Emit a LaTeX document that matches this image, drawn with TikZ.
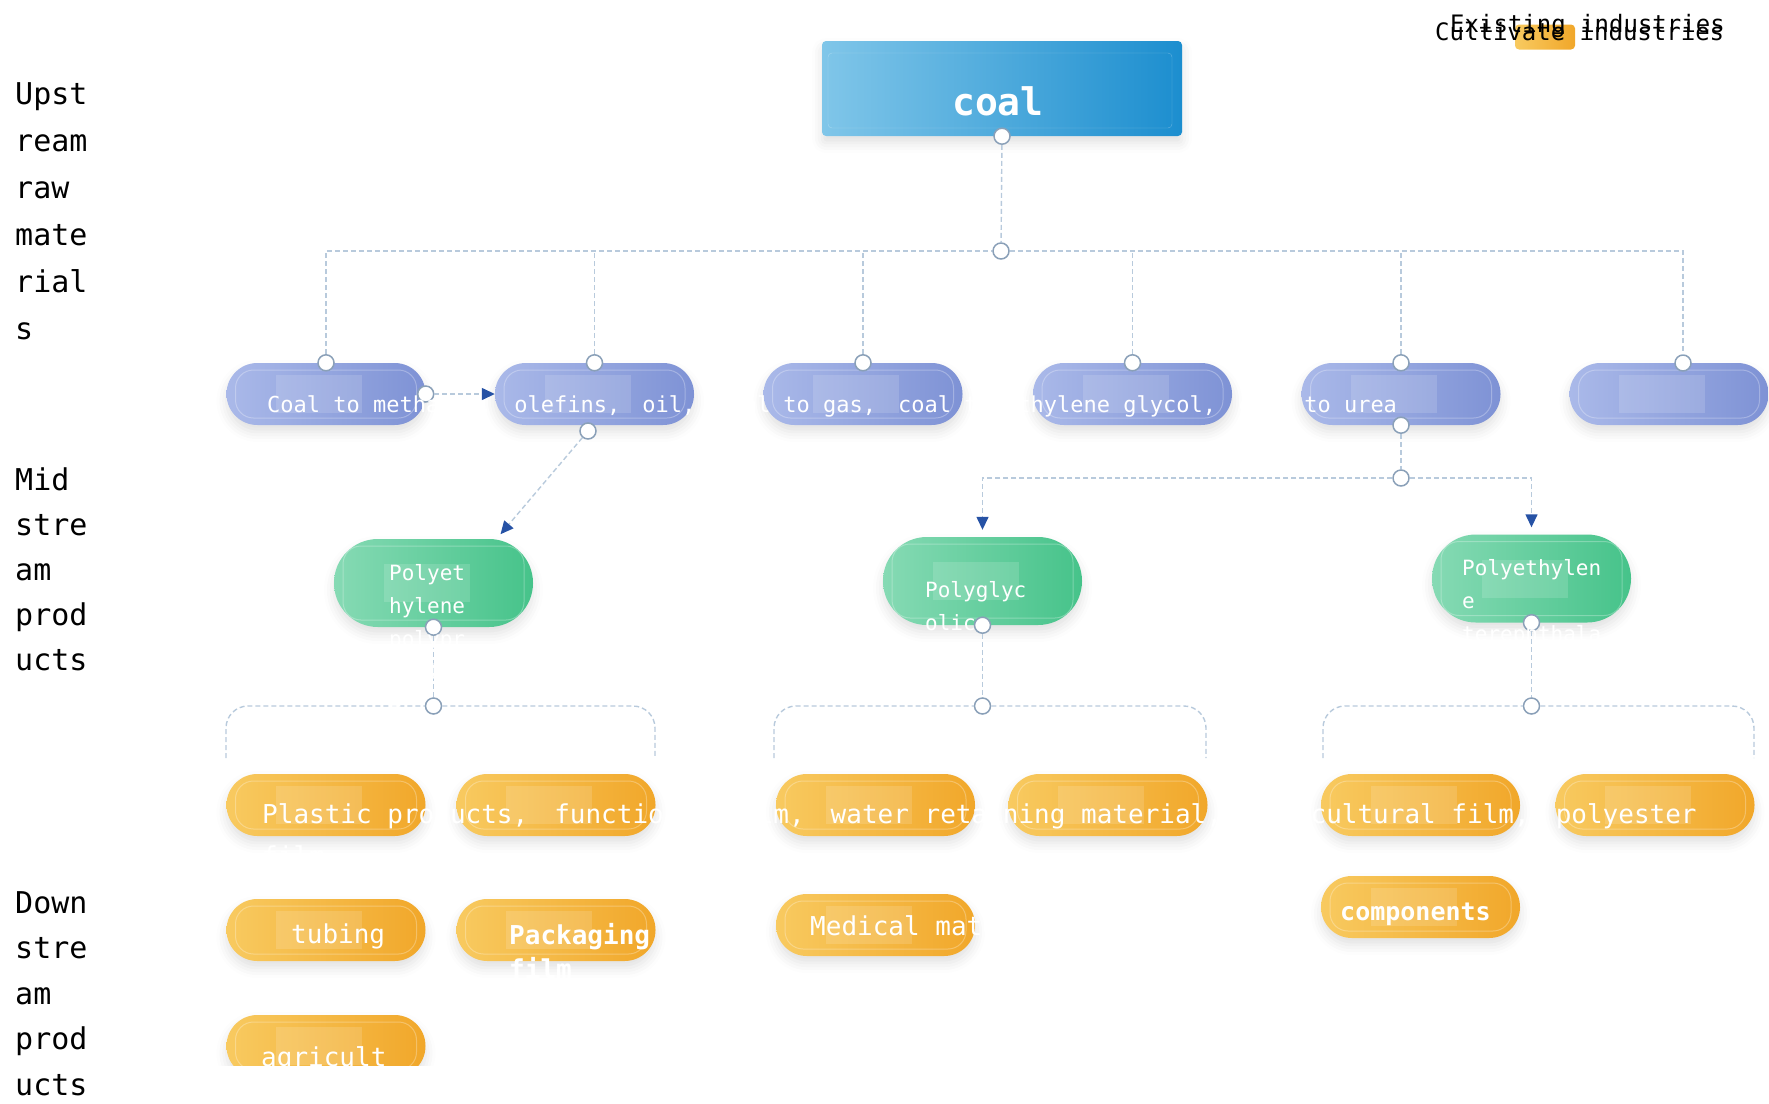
\documentclass[tikz,border=0pt]{standalone}
\usepackage{fontspec}
\setmonofont{DejaVu Sans Mono}
\usepackage{xcolor}
\usepackage{tikz}
\usetikzlibrary{arrows.meta, shadows.blur}

\definecolor{upL}{RGB}{170,185,233}
\definecolor{upR}{RGB}{126,146,213}
\definecolor{midL}{RGB}{134,218,180}
\definecolor{midR}{RGB}{70,195,138}
\definecolor{dnL}{RGB}{248,202,96}
\definecolor{dnR}{RGB}{241,167,42}
\definecolor{coalL}{RGB}{128,198,233}
\definecolor{coalR}{RGB}{28,142,207}
\definecolor{linkc}{RGB}{184,202,220}
\definecolor{dotc}{RGB}{138,160,184}
\definecolor{arrc}{RGB}{38,82,165}

\tikzset{
  deco/.style={path picture={
    \fill[white, opacity=.14, sharp corners] ([shift={(-50pt,-19pt)}]path picture bounding box.center)
      rectangle ([shift={(36pt,19pt)}]path picture bounding box.center);
    \draw[white, opacity=.28, line width=1pt, rounded corners=18pt]
      ([shift={(9pt,7pt)}]path picture bounding box.south west)
      rectangle ([shift={(-9pt,-7pt)}]path picture bounding box.north east);
  }},
  softshadow/.style={blur shadow={shadow xshift=0pt, shadow yshift=-7pt,
    shadow blur radius=10pt, shadow opacity=12}},
  uppill/.style={rectangle, rounded corners=30.9pt, minimum width=199pt,
    minimum height=62pt, inner sep=0pt, left color=upL, right color=upR,
    softshadow, deco},
  midpill/.style={rectangle, rounded corners=43.9pt, minimum width=199pt,
    minimum height=88pt, inner sep=0pt, left color=midL, right color=midR,
    softshadow, deco},
  dnpill/.style={rectangle, rounded corners=30.9pt, minimum width=199pt,
    minimum height=62pt, inner sep=0pt, left color=dnL, right color=dnR,
    softshadow, deco},
  coalbox/.style={rectangle, rounded corners=4pt, minimum width=360pt,
    minimum height=95pt, inner sep=0pt, left color=coalL, right color=coalR,
    softshadow, path picture={
      \draw[white, opacity=.3, rounded corners=4pt]
        ([shift={(6pt,8pt)}]path picture bounding box.south west)
        rectangle ([shift={(-10pt,-12pt)}]path picture bounding box.north east);
    }},
  legbox/.style={rectangle, rounded corners=4pt, minimum width=60pt,
    minimum height=25pt, left color=dnL, right color=dnR},
  dot/.style={circle, draw=dotc, fill=white, line width=1.5pt,
    minimum size=16pt, inner sep=0pt},
  conn/.style={draw=linkc, line width=1.4pt, dash pattern=on 5pt off 3pt},
  arr/.style={conn, -{Triangle[length=13pt, width=12pt, color=arrc]}},
  uptxt/.style={text=white, font=\ttfamily\fontsize{22}{30}\selectfont,
    inner sep=0pt, anchor=base west},
  midtxt/.style={text=white, font=\ttfamily\fontsize{21}{33}\selectfont,
    inner sep=0pt, anchor=north west, align=left},
  dntxt/.style={text=white, font=\ttfamily\fontsize{26}{42}\selectfont,
    inner sep=0pt, anchor=base west},
  sidetxt/.style={font=\ttfamily\fontsize{30}{47}\selectfont,
    inner sep=0pt, anchor=north west, align=left},
  legtxt/.style={font=\ttfamily\fontsize{24}{28}\selectfont,
    inner sep=0pt, anchor=base west}
}

\begin{document}
\begin{tikzpicture}[x=1pt, y=-1pt]
    \useasboundingbox (0,0) rectangle (1769,1103);

    \node[sidetxt] (side1) at (15,82) {Upst\\ream\\raw\\mate\\rial\\s};
    \node[sidetxt, font=\ttfamily\fontsize{30}{45}\selectfont] (side2) at (15,467) {Mid\\stre\\am\\prod\\ucts};
    \node[sidetxt, font=\ttfamily\fontsize{30}{45.5}\selectfont] (side3) at (15,891) {Down\\stre\\am\\prod\\ucts};

    \node[legbox] (leg) at (1545,37) {};
    \node[legtxt] (exist) at (1450,32) {Existing industries};
    \node[legtxt] (cult) at (1435,40) {Cultivate industries};

    \node[coalbox] (coal) at (1002,88.5) {};
    \node[text=white, font=\ttfamily\bfseries\fontsize{38}{40}\selectfont,
      inner sep=0pt, anchor=base west] (coallbl) at (952,115) {coal};

    \node[uppill] (u1) at (326,394) {};
    \node[uppill] (u2) at (594.5,394) {};
    \node[uppill] (u3) at (863,394) {};
    \node[uppill] (u4) at (1132.5,394) {};
    \node[uppill] (u5) at (1401,394) {};
    \node[uppill] (u6) at (1669,394) {};

    \node[midpill] (m1) at (433.5,583) {};
    \node[midpill] (m2) at (982.5,581) {};
    \node[midpill] (m3) at (1531.5,578.5) {};

    \node[dnpill] (d1) at (326,805) {};
    \node[dnpill] (d2) at (556,805) {};
    \node[dnpill] (d3) at (875.5,805) {};
    \node[dnpill] (d4) at (1108,805) {};
    \node[dnpill] (d5) at (1420.5,805) {};
    \node[dnpill] (d6) at (1655,805) {};
    \node[dnpill] (d7) at (326,930) {};
    \node[dnpill] (d8) at (556,930) {};
    \node[dnpill] (d9) at (875.5,925) {};
    \node[dnpill] (d10) at (1420.5,907) {};
    \node[dnpill] (d11) at (326,1046) {};

    \node[dot] (coalb) at (coal.south) {};
    \node[dot] (hub) at (1001,251) {};
    \foreach \n in {1,...,5}
        \node[dot] (u\n t) at (u\n.north) {};
    \node[dot] (u6t) at (1683,363) {};
    \node[dot] (u1e) at (u1.east) {};
    \node[dot] (u2b) at (588,431) {};
    \node[dot] (u5b) at (u5.south) {};
    \node[dot] (j5) at (1401,478) {};
    \foreach \n in {1,2,3}
        \node[dot] (m\n b) at (m\n.south) {};
    \node[dot] (j1) at (433.5,706) {};
    \node[dot] (j2) at (982.5,706) {};
    \node[dot] (j3) at (1531.5,706) {};

    \coordinate (b1l) at (226,758);
    \coordinate (b1r) at (655,758);
    \coordinate (b2l) at (774,758);
    \coordinate (b2r) at (1206,758);
    \coordinate (b3l) at (1323,758);
    \coordinate (b3r) at (1754,758);

    \draw[conn] (coalb) -- (hub);
    \draw[conn] (u1t) |- (hub);
    \draw[conn] (hub) -| (u6t);
    \foreach \n in {2,...,5}
        \draw[conn] (u\n t) -- (u\n t |- hub);

    \draw[arr] (u1e) -- (u2.west);
    \draw[arr, shorten >=6pt] (u2b) -- (m1.35);

    \draw[conn] (u5b) -- (j5);
    \draw[arr, shorten >=7pt] (j5) -| (m2);
    \draw[arr, shorten >=7pt] (j5) -| (m3);

    \foreach \n in {1,2,3} {
        \draw[conn] (m\n b) -- (j\n);
        \draw[conn, rounded corners=22pt] (b\n l) |- (j\n);
        \draw[conn, rounded corners=22pt] (j\n) -| (b\n r);
    }

    \node[uptxt] (uplbl) at (267,412) {Coal to methanol,\quad olefins,\quad oil,\quad coal to gas,\quad coal to ethylene glycol,\quad coal to urea};

    \node[midtxt] (m1lbl) at (389,564) {Polyet\\hylene\\polypr\\opylen\\e};
    \node[midtxt] (m2lbl) at (925,581) {Polyglyc\\olic\\acid};
    \node[midtxt] (m3lbl) at (1462,559) {Polyethylen\\e\\terephthala\\te};

    \node[dntxt, anchor=north west, align=left] (d1lbl) at (262,803) {Plastic products,\quad functional film,\quad water retaining material,\quad agricultural film,\quad polyester\\film};
    \node[dntxt] (d7lbl) at (291,943) {tubing};
    \node[dntxt, anchor=north west, align=left, font=\ttfamily\bfseries\fontsize{26}{34}\selectfont] (d8lbl) at (509,923) {Packaging\\film};
    \node[dntxt] (d9lbl) at (810,935) {Medical materials};
    \node[dntxt, font=\ttfamily\bfseries\fontsize{25}{30}\selectfont] (d10lbl) at (1340,920) {components};
    \node[dntxt] (d11lbl) at (261,1066) {agricult};

    \fill[white] (200,1066) rectangle (1769,1103);
\end{tikzpicture}
\end{document}
